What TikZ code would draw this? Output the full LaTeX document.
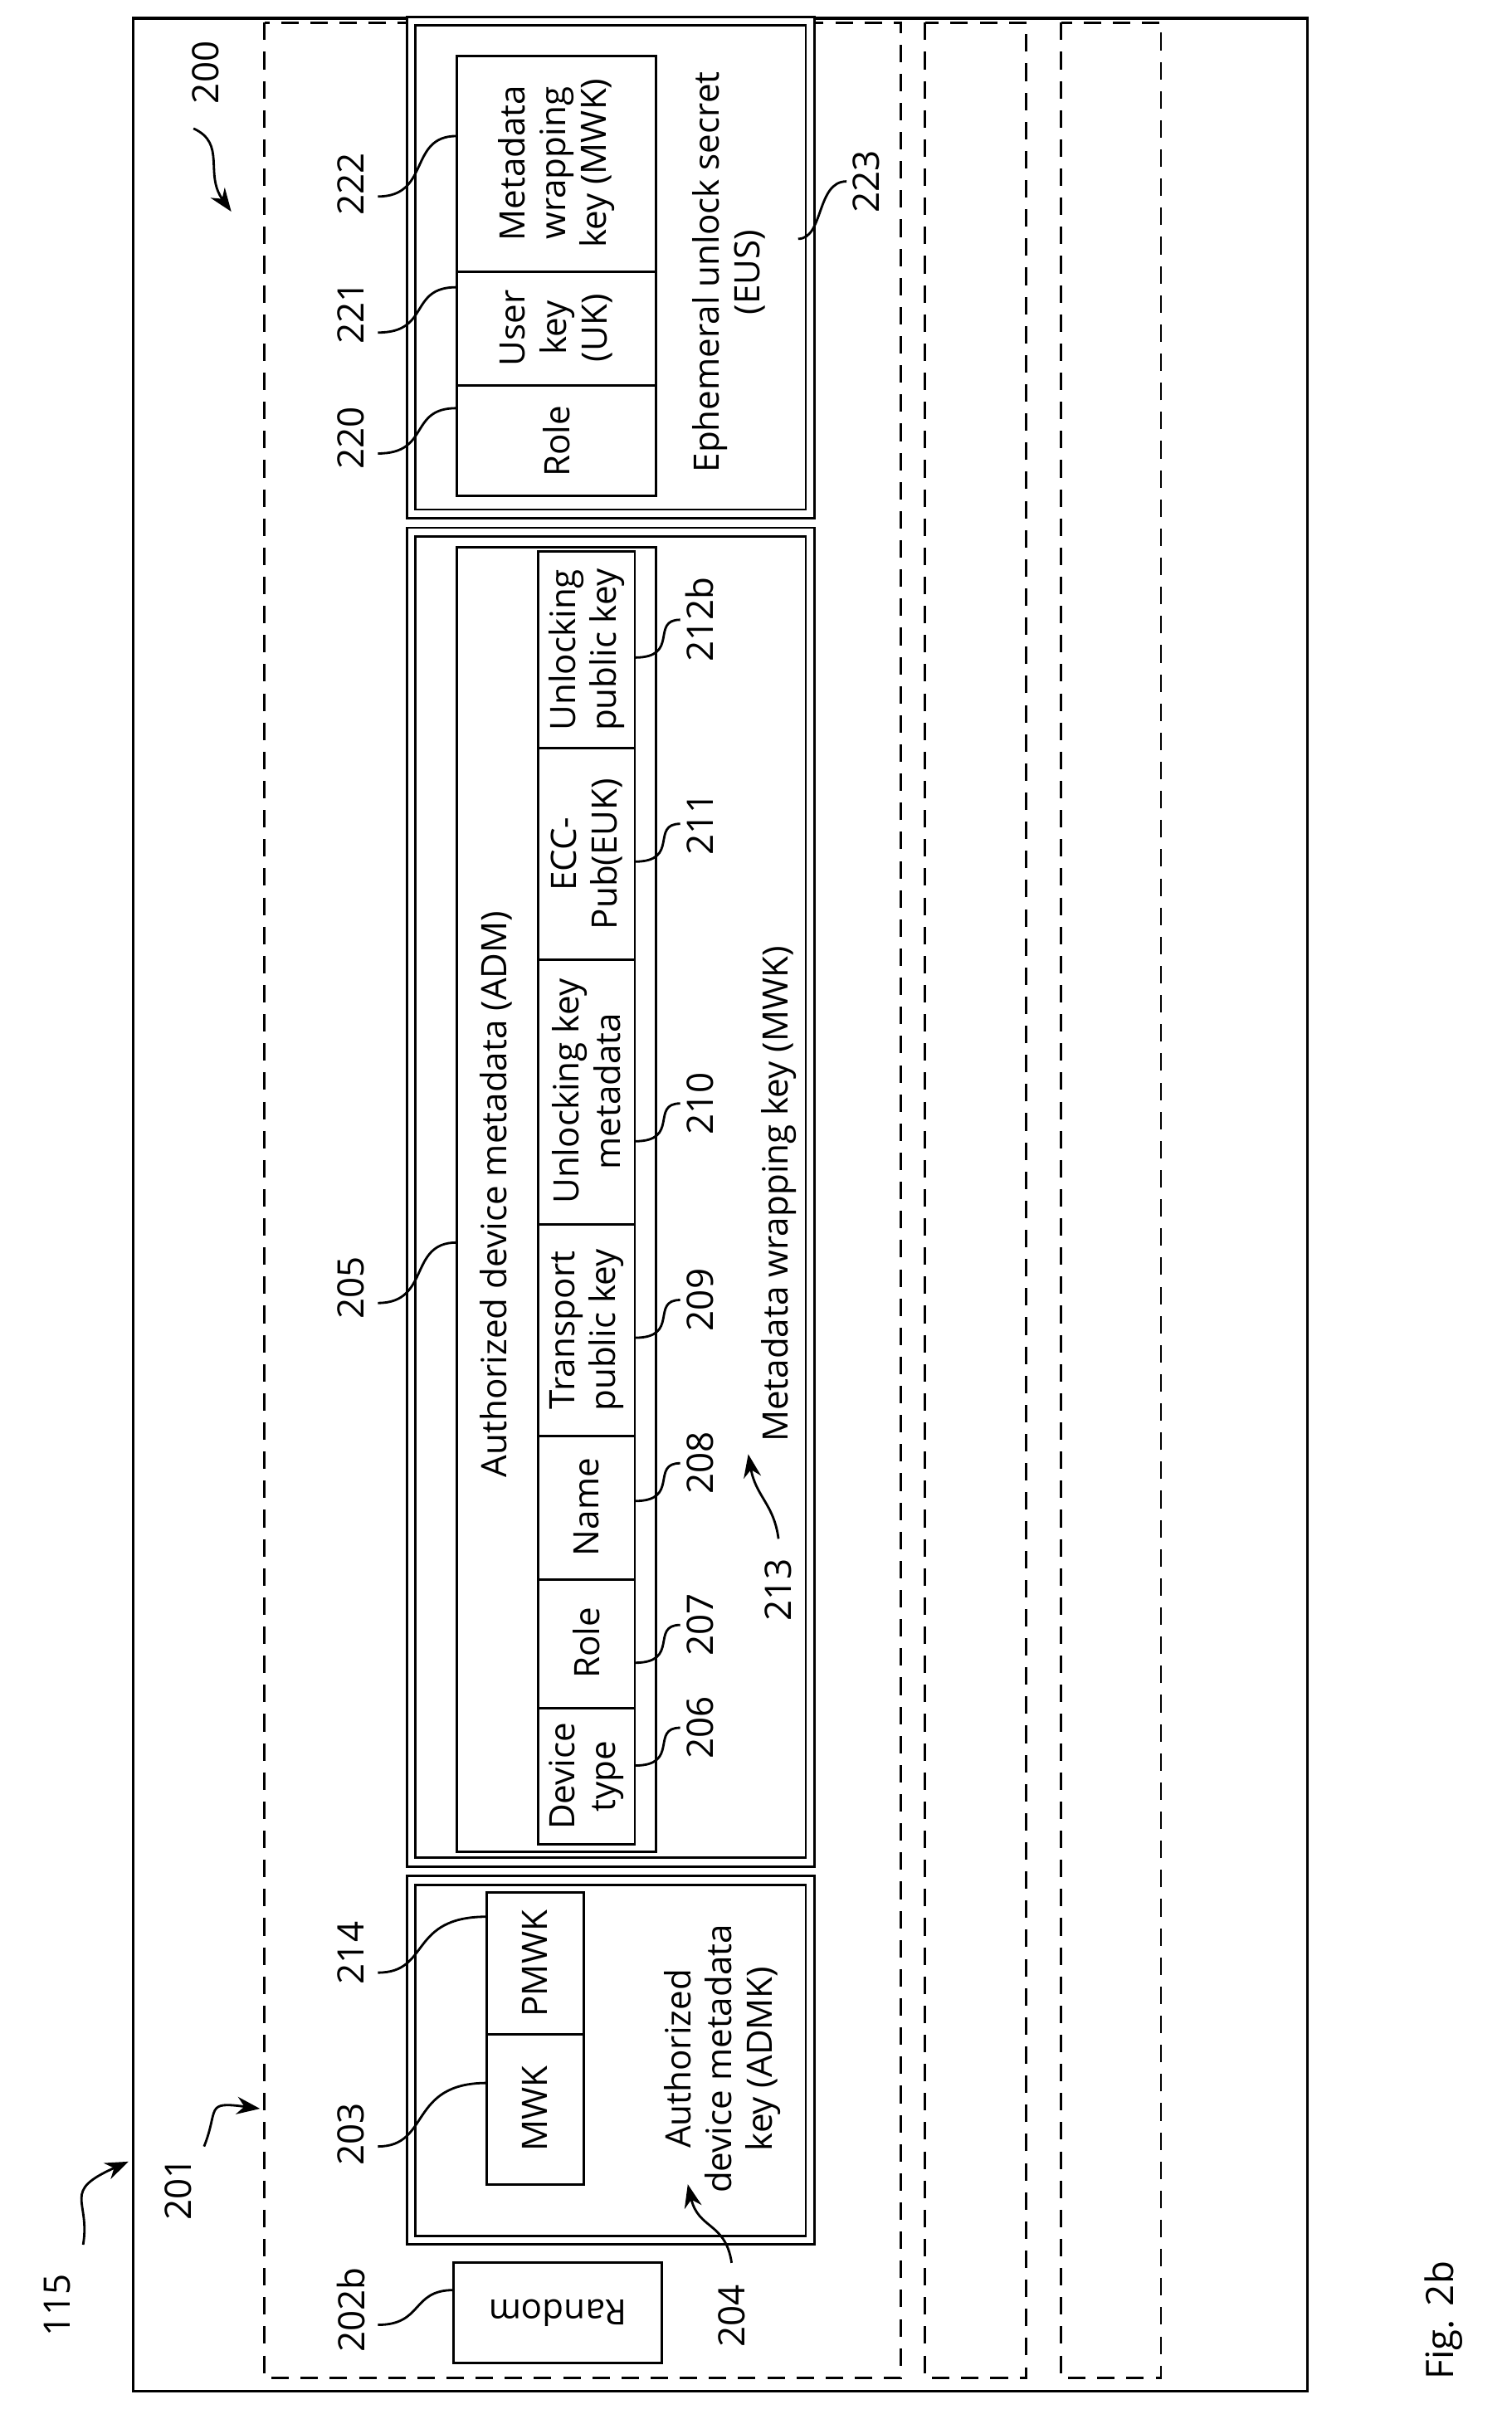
\documentclass[tikz,border=0pt]{standalone}
\usepackage{fontspec}
\setmainfont{Open Sans}
\usetikzlibrary{arrows.meta}
\begin{document}
\begin{tikzpicture}[x=0.01822cm,y=-0.01822cm,
 t/.style={rotate=90,font=\fontsize{12}{14}\selectfont,align=center,inner sep=0},
 lab/.style={rotate=90,font=\fontsize{12.5}{14}\selectfont,inner sep=1pt},
 box/.style={draw,line width=0.8pt},
 dbl/.style={draw,line width=0.8pt,double,double distance=2.2pt},
 dsh/.style={draw,line width=0.8pt,dash pattern=on 6pt off 4pt},
 ld/.style={line width=0.8pt},
 ar/.style={line width=0.8pt,-{Stealth[length=8pt,width=6pt]}}]
\useasboundingbox (0,0) rectangle (1000,1597);
\draw[line width=1pt] (88,12) rectangle (865,1582);
\draw[dsh] (175,15) rectangle (596,1573);
\draw[dsh] (612,15) rectangle (679,1573);
\draw[dsh] (702,15) rectangle (768,1573);
% labels with arrows
\node[lab] (l115) at (38,1525) {115};
\draw[ar] (55,1485) .. controls (60,1455) and (40,1450) .. (85,1430);
\node[lab] (l201) at (118,1448) {201};
\draw[ar] (135,1420) .. controls (145,1395) and (135,1390) .. (172,1395);
\node[lab] (l200) at (136,48) {200};
\draw[ar] (128,85) .. controls (150,95) and (135,115) .. (153,140);
% ADMK
\draw[dbl] (272,1244) rectangle (536,1482);
\draw[box] (322,1346) rectangle (386,1445);
\draw[box] (322,1252) rectangle (386,1346);
\node[t] (mwk) at (354,1395) {MWK};
\node[t] (pmwk) at (354,1299) {PMWK};
\node[t] (admk) at (478,1362) {Authorized\\device metadata\\key (ADMK)};
\node[lab] (l203) at (232,1412) {203};
\draw[ld] (250,1420) .. controls (285,1420) and (270,1378) .. (322,1378);
\node[lab] (l214) at (232,1292) {214};
\draw[ld] (250,1305) .. controls (285,1305) and (270,1268) .. (322,1268);
\node[lab] (l204) at (484,1532) {204};
\draw[ar] (484,1497) .. controls (480,1470) and (462,1475) .. (455,1445);
% Random
\draw[box] (300,1497) rectangle (438,1563);
\node[font=\fontsize{12}{14}\selectfont,rotate=180,inner sep=0] (rnd) at (369,1530) {Random};
\node[lab] (l202b) at (232,1528) {202b};
\draw[ld] (250,1538) .. controls (280,1538) and (272,1515) .. (300,1515);
% ADM
\draw[dbl] (272,352) rectangle (536,1232);
\draw[box] (302,362) rectangle (434,1225);
\node[t] (adm) at (328,790) {Authorized device metadata (ADM)};
\foreach \a/\b in {1220/1130,1130/1045,1045/950,950/810,810/635,635/495,495/365}
  \draw[box] (356,\a) rectangle (420,\b);
\node[t] at (388,1175) {Device\\type};
\node[t] at (388,1087) {Role};
\node[t] at (388,997) {Name};
\node[t] at (388,880) {Transport\\public key};
\node[t] at (388,722) {Unlocking key\\metadata};
\node[t] at (388,565) {ECC-\\Pub(EUK)};
\node[t] at (388,430) {Unlocking\\public key};
\foreach \y/\n in {1143/206,1075/207,968/208,860/209,730/210,545/211,410/212b}{
  \node[lab] at (463,\y) {\n};
  \draw[ld] (420,\y+25) .. controls (450,\y+25) and (430,\y) .. (450,\y);
}
\node[lab] (l205) at (232,852) {205};
\draw[ld] (250,862) .. controls (285,862) and (270,822) .. (302,822);
\node[t] (mwk2) at (515,790) {Metadata wrapping key (MWK)};
\node[lab] (l213) at (515,1052) {213};
\draw[ar] (515,1018) .. controls (512,995) and (500,990) .. (495,962);
% EUS
\draw[dbl] (272,14) rectangle (536,340);
\draw[box] (302,37) rectangle (434,328);
\draw[box] (302,180) -- (434,180) (302,255) -- (434,255);
\node[t] at (368,292) {Role};
\node[t] at (368,217) {User\\key\\(UK)};
\node[t] at (368,108) {Metadata\\wrapping\\key (MWK)};
\node[t] (eus) at (482,180) {Ephemeral unlock secret\\(EUS)};
\node[lab] (l220) at (232,290) {220};
\draw[ld] (250,300) .. controls (285,300) and (270,270) .. (302,270);
\node[lab] (l221) at (232,207) {221};
\draw[ld] (250,220) .. controls (285,220) and (270,190) .. (302,190);
\node[lab] (l222) at (232,122) {222};
\draw[ld] (250,130) .. controls (285,130) and (270,90) .. (302,90);
\node[lab] (l223) at (573,120) {223};
\draw[ld] (528,158) .. controls (545,158) and (540,120) .. (560,120);
\node[rotate=90,font=\fontsize{13}{15}\selectfont] (fig) at (955,1535) {Fig. 2b};
\end{tikzpicture}
\end{document}
